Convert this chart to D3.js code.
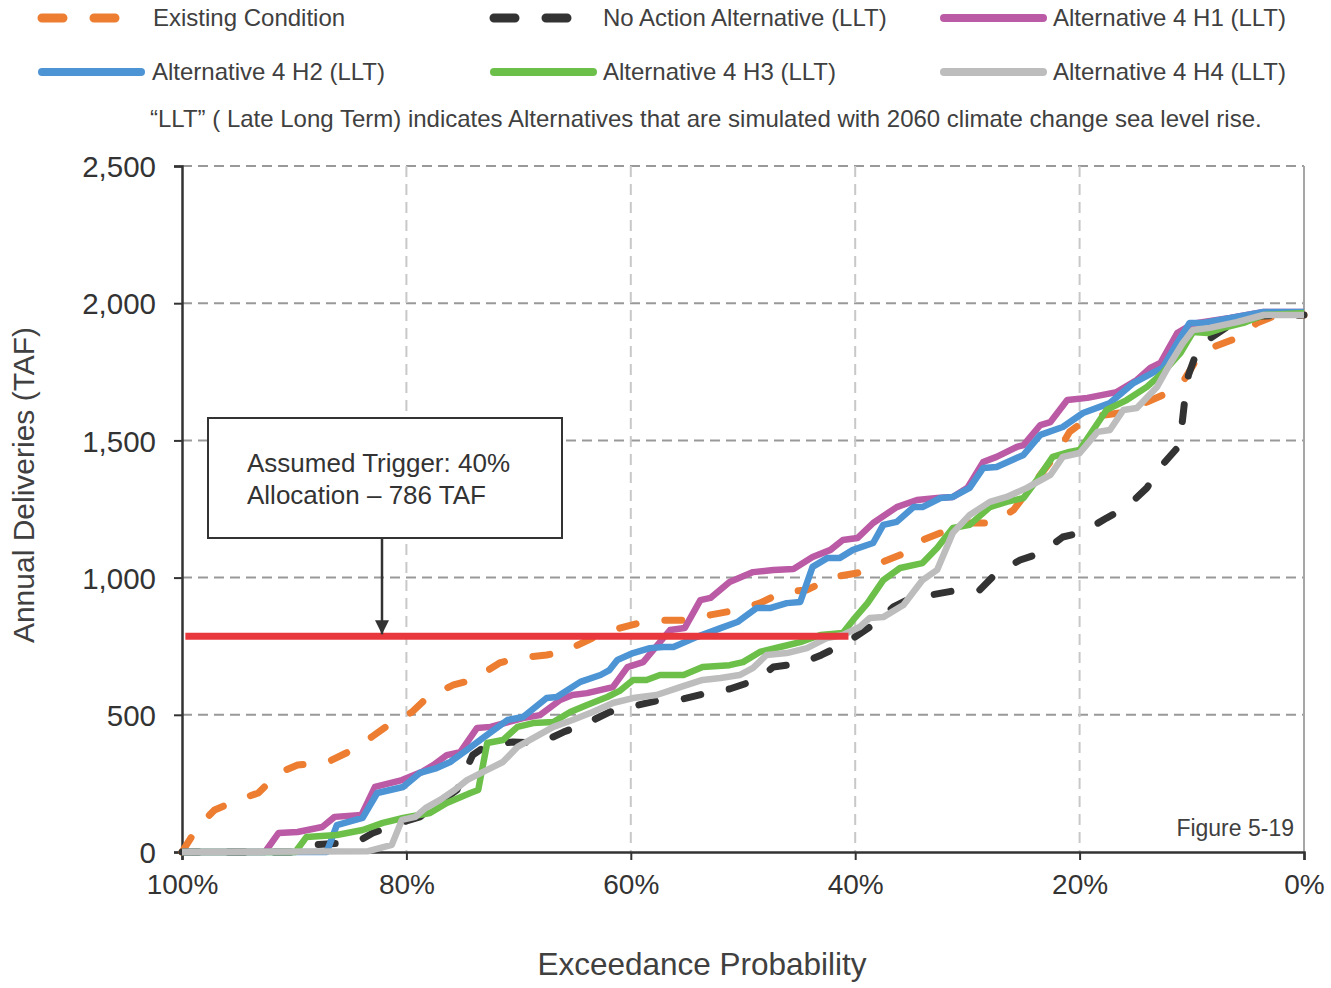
<!DOCTYPE html>
<html>
<head>
<meta charset="utf-8">
<script src="https://cdn.jsdelivr.net/npm/d3@7"></script>
<style>
body { margin: 0; background: #fff; }
svg { display: block; font-family: "Liberation Sans", Arial, sans-serif; }
</style>
</head>
<body>
<svg id="chart" width="1331" height="988"></svg>
<script>
// exceedance probability (%) and annual deliveries (TAF)
var existingCondition = [[100,0],[98.6,91],[97.1,153],[95,190],[93.2,215],[91.4,288],[89.7,317],[87,328],[85.2,364],[83.1,419],[81.6,463],[79.5,510],[78.1,565],[75.8,609],[74.1,627],[71.7,689],[70.1,707],[67.5,718],[66,729],[63.4,780],[61.6,809],[59.2,835],[57.2,845],[55,845],[52.9,864],[50.5,882],[48.5,907],[46.4,948],[44.3,955],[42,1002],[39.8,1017],[37.8,1053],[36,1082],[34,1137],[32.2,1166],[30,1199],[27.8,1199],[25.9,1246],[22,1454],[20.9,1531],[19.1,1585],[16.4,1600],[14.6,1629],[12.6,1665],[10.8,1713],[9.5,1800],[8.1,1840],[5.7,1877],[4.2,1928],[2.4,1957],[0,1957]]
var noAction = [[100,0],[89.5,0],[88.3,26],[84.4,36],[83,69],[80.3,109],[78.8,128],[75.5,226],[74.1,353],[72.8,390],[70.5,401],[68.1,397],[66,437],[63.9,470],[61.9,510],[60.1,528],[57.4,554],[55.3,558],[53.2,579],[51.2,594],[48.8,627],[47.3,674],[44.7,689],[43,718],[40.7,765],[38.7,820],[36.6,893],[35.4,918],[33.2,937],[31.3,951],[28.9,955],[27.4,1017],[25.3,1064],[23.4,1090],[21.5,1148],[19.7,1166],[17.6,1217],[15.8,1257],[14,1327],[12.8,1403],[11.3,1472],[10.9,1549],[10.6,1658],[10.3,1738],[9.5,1829],[8.2,1877],[6.6,1920],[3.9,1953],[0,1957]]
var alt4H1 = [[100,0],[92.6,0],[91.4,69],[89.7,73],[87.5,91],[86.4,128],[84,135],[82.8,237],[80.4,262],[78.6,292],[77.6,317],[76.4,353],[75.2,364],[73.7,452],[72.5,456],[69.6,488],[68.1,499],[66.3,554],[65.2,572],[63.9,579],[61.6,601],[60.3,674],[58.9,692],[56.5,809],[55.2,816],[53.8,918],[52.9,926],[51.2,984],[49.1,1020],[47.3,1028],[45.5,1031],[43.8,1075],[42.2,1101],[41.1,1137],[39.8,1144],[38.4,1199],[36.3,1257],[34.5,1283],[32.7,1290],[31.3,1294],[30,1327],[28.6,1421],[27.4,1440],[25.6,1476],[25,1483],[23.5,1556],[22.6,1567],[21.1,1647],[19.3,1655],[16.7,1676],[14.9,1720],[13.7,1764],[12.8,1782],[11.3,1891],[10.4,1913],[9.5,1928],[6.6,1946],[3.6,1968],[0,1968]]
var alt4H2 = [[100,0],[87.1,0],[86.2,98],[83.9,124],[82.6,215],[80.3,237],[78.8,288],[77.3,306],[76.1,328],[74.6,372],[73.2,415],[71,481],[69.6,492],[67.5,561],[66.6,565],[64.5,620],[62.7,645],[61.9,663],[61.2,700],[59.8,725],[58.3,743],[57.1,747],[56.2,747],[54.1,784],[52,816],[50.5,838],[48.8,889],[47.6,889],[46.1,907],[44.9,911],[43.8,1039],[42.5,1071],[41.4,1071],[40.2,1101],[38.4,1126],[37.5,1192],[36.3,1203],[34.8,1257],[34,1257],[32.4,1290],[31.3,1294],[29.8,1327],[28.6,1399],[27.4,1403],[25,1447],[23.5,1520],[21.5,1549],[19.7,1600],[17.3,1636],[15.2,1709],[13.5,1746],[12.6,1764],[11.3,1855],[10.2,1928],[9,1928],[3.6,1968],[0,1968]]
var alt4H3 = [[100,0],[89.9,0],[88.9,55],[86.2,62],[83.9,80],[82.1,106],[80.3,124],[77.9,142],[76.4,179],[74.3,215],[73.6,226],[72.8,397],[71.4,408],[70.1,456],[68.7,470],[66.9,474],[65.4,510],[63.9,536],[62.1,565],[61,587],[59.8,627],[58.6,627],[57.4,645],[55.3,645],[53.6,674],[51.2,681],[50,692],[48.5,729],[46.7,747],[44.9,765],[43.1,791],[41.1,798],[40.2,845],[38.9,907],[37.5,991],[36,1035],[34,1053],[32.7,1108],[31.3,1181],[29.8,1192],[28,1257],[26.5,1276],[25,1290],[23.8,1356],[22.4,1440],[20.9,1458],[20,1465],[18.8,1538],[17.6,1611],[15.8,1647],[14,1695],[12.6,1746],[11,1819],[9.9,1895],[8.6,1891],[7.2,1910],[5.4,1928],[3.6,1957],[0,1964]]
var alt4H4 = [[100,0],[83.4,3],[81.3,26],[80.4,117],[79.2,128],[78.3,160],[77,190],[75.7,226],[74.6,262],[72.8,299],[71.4,328],[70.1,383],[68.7,415],[66.9,456],[65.2,481],[63.4,510],[61.6,543],[59.8,561],[57.7,572],[55.6,601],[53.6,627],[52,634],[50.3,645],[49.1,671],[47.9,718],[46.1,725],[44.3,743],[42.5,780],[41.1,791],[39.6,820],[38.7,853],[37.5,856],[35.7,900],[34,991],[32.7,1028],[31.3,1163],[29.8,1228],[28,1276],[26.5,1294],[24.7,1327],[22.6,1374],[21.5,1440],[20,1454],[18.4,1531],[17.3,1538],[16.1,1611],[14.9,1618],[13.1,1695],[11.9,1782],[10.8,1855],[9.9,1902],[8.4,1910],[6,1931],[3.6,1957],[0,1957]]

var triggerLine = [[99.7,786],[40.6,786]]

var xTicks = [100, 80, 60, 40, 20, 0]
var yTicks = [0, 500, 1000, 1500, 2000, 2500]

var seriesNames = ['Existing Condition', 'No Action Alternative (LLT)', 'Alternative 4 H1 (LLT)', 'Alternative 4 H2 (LLT)', 'Alternative 4 H3 (LLT)', 'Alternative 4 H4 (LLT)']
var seriesColors = ['#ed7d31', '#333333', '#bb5aa5', '#4d94d5', '#6cc04a', '#bdbdbd']
var seriesData = [existingCondition, noAction, alt4H1, alt4H2, alt4H3, alt4H4]
var seriesDashed = [true, true, false, false, false, false]

var svg = d3.select('#chart')
var plotLeft = 182, plotRight = 1304, plotTop = 166, plotBottom = 852

var x = d3.scaleLinear().domain([100, 0]).range([plotLeft, plotRight])
var y = d3.scaleLinear().domain([0, 2500]).range([plotBottom, plotTop])

// grid lines
var grid = svg.append('g')
grid.selectAll('line.h').data(yTicks.filter(function(d) {return d > 0})).enter().append('line')
	.attr('x1', plotLeft).attr('x2', plotRight)
	.attr('y1', function(d) {return y(d)}).attr('y2', function(d) {return y(d)})
	.attr('stroke', '#999').attr('stroke-width', 2).attr('stroke-dasharray', '10,6')
grid.selectAll('line.v').data(xTicks.filter(function(d) {return d > 0 && d < 100})).enter().append('line')
	.attr('y1', plotTop).attr('y2', plotBottom)
	.attr('x1', function(d) {return x(d)}).attr('x2', function(d) {return x(d)})
	.attr('stroke', '#c8c8c8').attr('stroke-width', 2).attr('stroke-dasharray', '11,7')
// right border
svg.append('line').attr('x1', plotRight).attr('x2', plotRight).attr('y1', plotTop).attr('y2', plotBottom)
	.attr('stroke', '#a6a6a6').attr('stroke-width', 2)

// axes
var yAxis = d3.axisLeft(y).tickValues(yTicks).tickSize(8).tickPadding(18).tickFormat(d3.format(','))
var xAxis = d3.axisBottom(x).tickValues(xTicks).tickSize(8).tickPadding(14).tickFormat(function(d) {return d + '%'})

var gy = svg.append('g').attr('transform', 'translate(' + plotLeft + ',0)').call(yAxis)
var gx = svg.append('g').attr('transform', 'translate(0,' + plotBottom + ')').call(xAxis)
;[gx, gy].forEach(function(g) {
	g.select('.domain').attr('stroke', '#333').attr('stroke-width', 2.5)
	g.selectAll('.tick line').attr('stroke', '#333').attr('stroke-width', 2)
	g.selectAll('.tick text').attr('fill', '#333').style('font-size', '28px').style('font-family', '"Liberation Sans", Arial, sans-serif')
})
gy.selectAll('.tick text').style('font-size', '29.5px').attr('dy', '0.36em')

svg.append('text').attr('x', 702).attr('y', 975).attr('text-anchor', 'middle')
	.attr('fill', '#404040').style('font-size', '31.5px').text('Exceedance Probability')
svg.append('text').attr('transform', 'translate(34,485) rotate(-90)').attr('text-anchor', 'middle')
	.attr('fill', '#404040').style('font-size', '30px').text('Annual Deliveries (TAF)')

// series
var line = d3.line().x(function(d) {return x(d[0])}).y(function(d) {return y(d[1])})
var lines = svg.append('g')
seriesData.forEach(function(data, i) {
	lines.append('path').datum(data)
		.attr('d', line)
		.attr('fill', 'none')
		.attr('stroke', seriesColors[i])
		.attr('stroke-width', seriesDashed[i] ? 7 : 6.5)
		.attr('stroke-linejoin', 'round')
		.attr('stroke-linecap', seriesDashed[i] ? 'round' : 'butt')
		.attr('stroke-dasharray', seriesDashed[i] ? '17,29' : null)
})

// trigger
svg.append('path').datum(triggerLine).attr('d', line)
	.attr('stroke', '#e8383d').attr('stroke-width', 7).attr('fill', 'none')

// annotation box + arrow
svg.append('defs').append('marker')
	.attr('id', 'arrowhead')
	.attr('viewBox', '0 -5 10 10')
	.attr('refX', 10).attr('refY', 0)
	.attr('orient', 'auto')
	.attr('markerUnits', 'userSpaceOnUse')
	.attr('markerWidth', 14).attr('markerHeight', 14)
	.append('path').attr('d', 'M0,-5 L10,0 L0,5 Z').attr('fill', '#333')
svg.append('line').attr('x1', 382).attr('x2', 382).attr('y1', 538).attr('y2', y(786) - 2)
	.attr('stroke', '#333').attr('stroke-width', 2.5).attr('marker-end', 'url(#arrowhead)')
svg.append('rect').attr('x', 208).attr('y', 418).attr('width', 354).attr('height', 120)
	.attr('fill', '#fff').attr('stroke', '#333').attr('stroke-width', 2)
svg.append('text').attr('x', 247).attr('y', 472).attr('fill', '#333').style('font-size', '26px').text('Assumed Trigger: 40%')
svg.append('text').attr('x', 247).attr('y', 504).attr('fill', '#333').style('font-size', '26px').text('Allocation \u2013 786 TAF')

svg.append('text').attr('x', 1294).attr('y', 836).attr('text-anchor', 'end')
	.attr('fill', '#404040').style('font-size', '23px').text('Figure 5-19')

// legend
var legendPos = [[38, 18], [490, 18], [940, 18], [38, 72], [490, 72], [940, 72]]
var legendTextX = [153, 603, 1053, 152, 603, 1053]
seriesNames.forEach(function(name, i) {
	var p = legendPos[i]
	var g = svg.append('g')
	if (seriesDashed[i]) {
		g.append('line').attr('x1', p[0] + 4).attr('x2', p[0] + 80).attr('y1', p[1]).attr('y2', p[1])
			.attr('stroke', seriesColors[i]).attr('stroke-width', 9).attr('stroke-linecap', 'round')
			.attr('stroke-dasharray', '21,31')
	} else {
		g.append('line').attr('x1', p[0] + 4).attr('x2', p[0] + 103).attr('y1', p[1]).attr('y2', p[1])
			.attr('stroke', seriesColors[i]).attr('stroke-width', 8).attr('stroke-linecap', 'round')
	}
	g.append('text').attr('x', legendTextX[i]).attr('y', p[1] + 8).attr('fill', '#404040')
		.style('font-size', '24px').text(name)
})
svg.append('text').attr('x', 150).attr('y', 127).attr('fill', '#404040').style('font-size', '24px')
	.text('\u201cLLT\u201d ( Late Long Term) indicates Alternatives that are simulated with 2060 climate change sea level rise.')
</script>
</body>
</html>
